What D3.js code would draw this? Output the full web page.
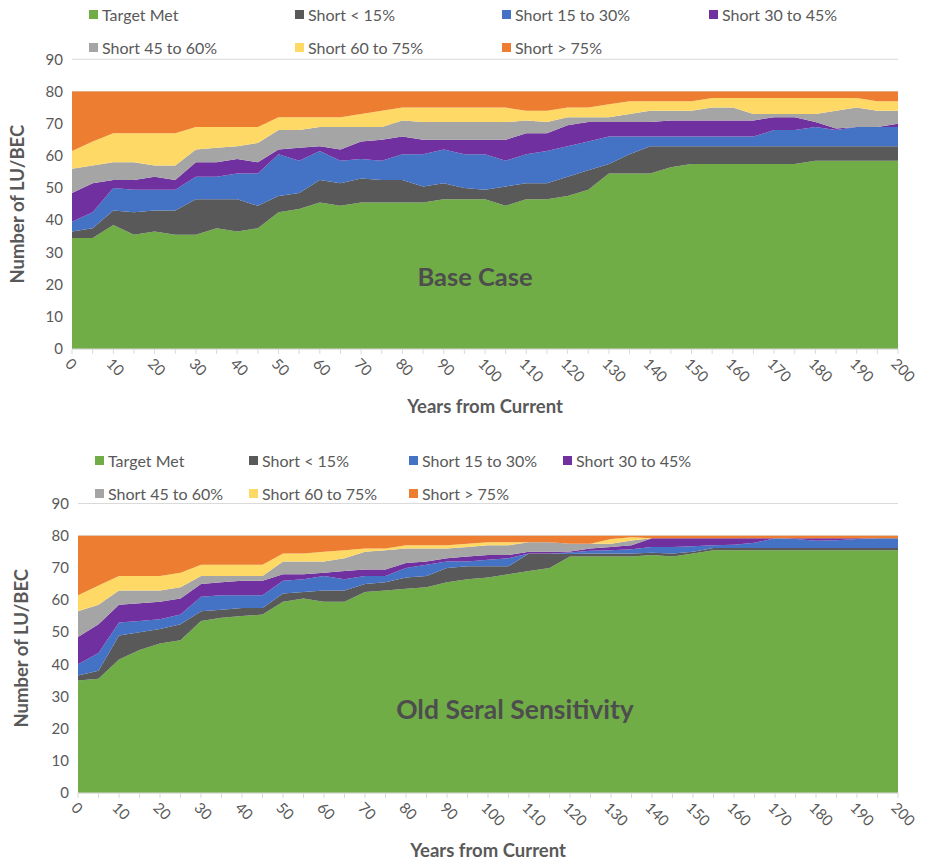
<!DOCTYPE html>
<html><head><meta charset="utf-8">
<script src="https://cdn.jsdelivr.net/npm/d3@7"></script>
<style>
html,body{margin:0;padding:0;background:#fff;}
svg{display:block;font-family:Lato, "Open Sans", sans-serif;}
</style></head>
<body>
<svg id="chart" width="925" height="867"></svg>
<script>
// ---------- DATA ----------
const years = [0,5,10,15,20,25,30,35,40,45,50,55,60,65,70,75,80,85,90,95,100,105,110,115,120,125,130,135,140,145,150,155,160,165,170,175,180,185,190,195,200];
const xTickLabels = ["0","10","20","30","40","50","60","70","80","90","100","110","120","130","140","150","160","170","180","190","200"];
const yTickLabels = [0,10,20,30,40,50,60,70,80,90];
const seriesNames = ["Target Met","Short < 15%","Short 15 to 30%","Short 30 to 45%","Short 45 to 60%","Short 60 to 75%","Short > 75%"];
const seriesColors = ["#70AD47","#595959","#4472C4","#7030A0","#A5A5A5","#FFD966","#ED7D31"];

// Base Case
const baseTargetMet = [34.5,34.5,38.5,35.5,36.5,35.5,35.5,37.5,36.5,37.5,42.5,43.5,45.5,44.5,45.5,45.5,45.5,45.5,46.5,46.5,46.5,44.5,46.5,46.5,47.5,49.5,54.5,54.5,54.5,56.5,57.5,57.5,57.5,57.5,57.5,57.5,58.5,58.5,58.5,58.5,58.5];
const baseShortLt15 = [2,3,4.5,7,6.5,7.5,11,9,10,7,5,5,7,7,7.5,7,7,5,5,3.5,3,6,5,5,6,6,3,6,8.5,6.5,5.5,5.5,5.5,5.5,5.5,5.5,4.5,4.5,4.5,4.5,4.5];
const baseShort15to30 = [3,5,7,7,6.5,6.5,7,7,8,10,13,10,9,7,6,6,8,10,10.5,10.5,11,8,9,10,9.5,9,8.5,5.5,3,3,3,3,3,3,5,5,6,5,6,6,6];
const baseShort30to45 = [9,9,2.5,3,4,3,4.5,4.5,4.5,3.5,1.5,4,1.5,3.5,5.5,6.5,5.5,4.5,3,4.5,4.5,6.5,6.5,5.5,6.5,6,4.5,4.5,4.5,5,5,5,5,5,4,4,1.5,0.5,0,0,1];
const baseShort45to60 = [7.5,5.5,5.5,5.5,3.5,4.5,4,4.5,4,6,6,5.5,6,7,4.5,4,5,5.5,5.5,5.5,5.5,5.5,4,3.5,2.5,1.5,1.5,2.5,3.5,3,3,4,4,2,1,1,2.5,5.5,6,5,4];
const baseShort60to75 = [5.5,7.5,9,9,10,10,7,6.5,6,5,4,4,3,3,4,5,4,4.5,4.5,4.5,4.5,4.5,3,3.5,3,3,4,4,3,3,3,3,3,5,5,5,5,4,3,3,3];
const baseShortGt75 = [18.5,15.5,13,13,13,13,11,11,11,11,8,8,8,8,7,6,5,5,5,5,5,5,6,6,5,5,4,3,3,3,3,2,2,2,2,2,2,2,2,3,3];

// Old Seral Sensitivity
const oldTargetMet = [35,35.5,41.5,44.5,46.5,47.5,53.5,54.5,55,55.5,59.5,60.5,59.5,59.5,62.5,63,63.5,64,65.5,66.5,67,68,69,70,73.5,73.5,73.5,73.5,74,73.5,74.5,75.5,75.5,75.5,75.5,75.5,75.5,75.5,75.5,75.5,75.5];
const oldShortLt15 = [1.5,2.5,7.5,5.5,4.5,5,3,2.5,2.5,2,2.5,2,3.5,3.5,2.5,2.5,3.5,3.5,4.5,4,3.5,2.5,5.5,4.5,0.8,1,1,1,0.7,1,0.5,0.7,0.7,0.7,0.7,0.7,0.7,0.7,0.7,0.7,0.7];
const oldShort15to30 = [3.5,5.5,4,3.5,3,3,4.5,4.5,4,4,4,4,4.5,3.5,2.5,2,3,3.5,2,1.5,2,2.5,0,0,0.5,0.8,1,1.3,1.8,2,1.7,0.8,1,1.6,3,2.8,2.2,2.4,2.8,3,3];
const oldShort30to45 = [8.5,9,5.5,5.5,5.5,5,4,4,4.5,4.5,2,1.5,1,2.5,2,2,1.5,1,1,1.5,1.5,1,0.5,0.5,0.3,0.7,1,1.2,2.7,2.7,2.5,2.2,2,1.4,0,0.2,0.8,0.6,0.2,0,0];
const oldShort45to60 = [8,6,4.5,4,3.5,3.5,2.5,2,1.5,1.5,4,4,3.5,4,5.5,6,4.5,4,3,3,3,3,3,3,2.4,1.5,1,1.5,0,0,0,0,0,0,0,0,0,0,0,0,0];
const oldShort60to75 = [5,6,4.5,4.5,4.5,4.5,3.5,3.5,3.5,3.5,2.5,2.5,3,2.5,1,0.5,1,1,1,1,1,1,0,0,0,0,1.5,1,0,0,0,0,0,0,0,0,0,0,0,0,0];
const oldShortGt75 = [18.5,15.5,12.5,12.5,12.5,11.5,9,9,9,9,5.5,5.5,5,4.5,4,4,3,3,3,2.5,2,2,2,2,2.5,2.5,1,0.5,0.8,0.8,0.8,0.8,0.8,0.8,0.8,0.8,0.8,0.8,0.8,0.8,0.8];

const baseSeries = [baseTargetMet,baseShortLt15,baseShort15to30,baseShort30to45,baseShort45to60,baseShort60to75,baseShortGt75];
const oldSeries = [oldTargetMet,oldShortLt15,oldShort15to30,oldShort30to45,oldShort45to60,oldShort60to75,oldShortGt75];

// ---------- DRAW ----------
const svg = d3.select("#chart");
const textColor = "#595959";
const gridColor = "#D9D9D9";

function drawChart(cfg){
  const g = svg.append("g");
  const table = years.map((yr,i)=>{
    const row = {year: yr};
    seriesNames.forEach((n,k)=>{ row[n] = cfg.series[k][i]; });
    return row;
  });
  const stack = d3.stack().keys(seriesNames)(table);
  const x = d3.scaleLinear().domain([years[0], years[years.length-1]]).range([cfg.left, cfg.right]);
  const y = d3.scaleLinear().domain([0, 90]).range([cfg.bottom, cfg.bottom - 90*cfg.unit]);

  // gridlines
  g.append("g").selectAll("line").data(yTickLabels).join("line")
    .attr("x1", cfg.left).attr("x2", cfg.right)
    .attr("y1", d=>y(d)).attr("y2", d=>y(d))
    .attr("stroke", gridColor).attr("stroke-width", 1);

  // areas
  const area = d3.area().x(d=>x(d.data.year)).y0(d=>y(d[0])).y1(d=>y(d[1]));
  g.append("g").selectAll("path").data(stack).join("path")
    .attr("d", area).attr("fill", (d,i)=>seriesColors[i]);

  // x axis line & ticks
  g.append("line").attr("x1", cfg.left).attr("x2", cfg.right)
    .attr("y1", y(0)).attr("y2", y(0)).attr("stroke", gridColor);
  g.append("g").selectAll("line").data(years).join("line")
    .attr("x1", d=>x(d)).attr("x2", d=>x(d))
    .attr("y1", y(0)).attr("y2", y(0)+5).attr("stroke", gridColor);

  // x tick labels (rotated 45°)
  g.append("g").selectAll("text").data(xTickLabels).join("text")
    .attr("transform", d=>`translate(${x(+d)-4},${y(0)+12}) rotate(45)`)
    .attr("text-anchor", "start").attr("dy", "0.35em")
    .attr("font-size", 15).attr("fill", textColor)
    .text(d=>d);

  // y tick labels
  g.append("g").selectAll("text").data(yTickLabels).join("text")
    .attr("x", cfg.left - 9).attr("y", d=>y(d)).attr("dy", "0.35em")
    .attr("text-anchor", "end").attr("font-size", 15).attr("fill", textColor)
    .text(d=>d);

  // axis titles
  g.append("text").attr("x", (cfg.left+cfg.right)/2 + cfg.xTitleDx).attr("y", cfg.xTitleY)
    .attr("text-anchor", "middle").attr("font-size", 18.5).attr("font-weight", "bold")
    .attr("fill", textColor).text("Years from Current");
  g.append("text").attr("transform", `translate(${cfg.yTitleX},${(y(0)+y(90))/2}) rotate(-90)`)
    .attr("text-anchor", "middle").attr("dy", "0.35em").attr("font-size", 18.5).attr("font-weight", "bold")
    .attr("fill", textColor).text("Number of LU/BEC");

  // in-plot label
  g.append("text").attr("x", cfg.labelX).attr("y", cfg.labelY)
    .attr("text-anchor", "middle").attr("dy", "0.35em").attr("font-size", cfg.labelSize).attr("font-weight", "bold")
    .attr("fill", "#4D4D4D").text(cfg.label);

  // legend
  const lg = g.append("g");
  seriesNames.forEach((n,k)=>{
    const pos = cfg.legendPos[k];
    lg.append("rect").attr("x", pos[0]).attr("y", pos[1]-5).attr("width", 9).attr("height", 9)
      .attr("fill", seriesColors[k]);
    lg.append("text").attr("x", pos[0]+13).attr("y", pos[1]).attr("dy", "0.35em")
      .attr("font-size", 16).attr("fill", textColor).text(n);
  });
}

drawChart({
  series: baseSeries, left: 72, right: 898, bottom: 349, unit: 3.219,
  xTitleY: 413, xTitleDx: 0, yTitleX: 18, label: "Base Case", labelSize: 25.5, labelX: 475, labelY: 277,
  legendPos: [[89,15],[295,15],[502,15],[709,15],[89,48],[295,48],[502,48]]
});
drawChart({
  series: oldSeries, left: 78, right: 898, bottom: 793, unit: 3.216,
  xTitleY: 857, xTitleDx: 0, yTitleX: 22, label: "Old Seral Sensitivity", labelSize: 26.5, labelX: 515, labelY: 710,
  legendPos: [[95,461],[249,461],[409,461],[563,461],[95,494],[249,494],[409,494]]
});
</script>
</body></html>
